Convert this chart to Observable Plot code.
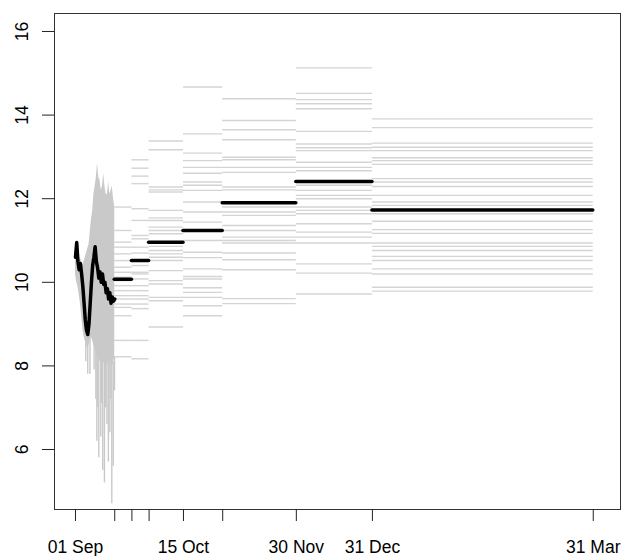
<!DOCTYPE html>
<html>
<head>
<meta charset="utf-8">
<script src="https://cdn.jsdelivr.net/npm/d3@7"></script>
<script src="https://cdn.jsdelivr.net/npm/@observablehq/plot@0.6"></script>
<style>
  html, body { margin: 0; padding: 0; background: #fff; }
  #chart svg { display: block; }
</style>
</head>
<body>
<div id="chart"></div>
<script>
// ---- Data (days since 01 Sep) ----
const tickDays = [0, 16, 23, 30, 44, 60, 90, 121, 211];
const tickLabels = ["01 Sep", "", "", "", "15 Oct", "", "30 Nov", "31 Dec", "31 Mar"];
const yTicks = [6, 8, 10, 12, 14, 16];

// half-day observed series, 01 Sep - 17 Sep
const halfDays = [0,0.5,1,1.5,2,2.5,3,3.5,4,4.5,5,5.5,6,6.5,7,7.5,8,8.5,9,9.5,10,10.5,11,11.5,12,12.5,13,13.5,14,14.5,15,15.5,16];
const observed = [10.6,10.95,10.5,10.3,10.45,10.2,9.9,9.5,9.1,8.85,8.75,9.0,9.5,10.0,10.4,10.6,10.85,10.5,10.35,10.1,10.25,10.0,10.2,9.95,10.0,9.75,9.85,9.6,9.75,9.5,9.65,9.55,9.6];
const ensUpper = [10.6,10.9,10.7,10.5,10.6,10.5,10.4,10.5,10.6,10.7,10.8,10.9,11.2,11.5,11.7,12.1,12.3,12.5,12.85,12.5,12.45,12.2,12.3,12.6,12.3,12.1,12.1,12.4,12.1,12.2,12.3,12.0,11.8];
const ensLower = [10.2,10.0,9.9,9.7,9.5,9.2,8.9,8.7,8.6,8.5,8.4,8.5,8.6,8.7,8.6,8.5,8.4,8.3,8.2,8.2,8.1,8.1,8.0,8.1,8.0,8.1,8.0,8.1,8.0,8.1,8.0,8.1,8.2];
// individual low ensemble members (streaks)
const streakDays = [4.2, 5.0, 5.9, 7.6, 8.3, 8.7, 9.1, 9.5, 10.3, 10.7, 11.1, 11.8, 12.3, 12.8, 13.4, 14.0, 14.4, 14.8, 15.4, 15.9];
const streakFrom = [8.7, 8.6, 8.7, 8.6, 8.5, 8.4, 8.3, 8.2, 8.2, 8.1, 8.1, 8.1, 8.1, 8.1, 8.1, 8.1, 8.1, 8.1, 8.1, 8.2];
const streakTo   = [8.1, 7.8, 7.8, 7.9, 7.2, 6.2, 7.0, 5.8, 6.3, 7.1, 5.5, 5.2, 7.0, 6.6, 5.7, 6.4, 7.2, 4.7, 5.6, 7.4];

// forecast periods
const periodStart = [16, 23, 30, 44, 60, 90, 121];
const periodEnd   = [23, 30, 44, 60, 90, 121, 211];
const periodMean  = [10.07, 10.52, 10.96, 11.24, 11.90, 12.41, 11.73];
const members1 = [11.80,11.24,10.96,10.84,10.68,10.52,10.36,10.24,10.12,10.04,9.92,9.80,9.68,9.60,9.48,9.40,9.20,8.61,8.22];
const members2 = [12.93,12.73,12.54,12.36,11.76,11.48,11.12,11.04,10.84,10.70,10.40,10.24,10.20,10.08,9.92,9.80,9.68,9.60,9.48,9.37,8.61,8.17];
const members3 = [13.38,13.17,12.28,12.21,12.16,11.72,11.54,11.48,11.32,11.24,11.16,10.86,10.76,10.68,10.60,10.52,10.28,10.04,9.96,9.64,9.56,8.93];
const members4 = [14.67,13.55,13.09,12.91,12.75,12.61,12.40,12.32,12.20,11.92,11.68,11.44,11.00,10.72,10.59,10.32,10.14,10.08,9.87,9.76,9.64,9.44,9.20];
const members5 = [14.39,13.87,13.65,13.41,12.99,12.93,12.75,12.63,12.28,12.21,11.80,11.68,11.60,11.36,11.24,11.08,11.00,10.94,10.70,10.54,10.30,9.61,9.49];
const members6 = [15.13,14.52,14.37,14.27,14.15,13.61,13.31,13.22,13.15,12.87,12.75,12.67,12.32,12.20,12.08,12.00,11.80,11.72,11.64,11.40,11.20,11.08,10.94,10.44,10.22,9.72];
const members7 = [13.91,13.70,13.33,13.23,13.15,12.98,12.91,12.82,12.48,12.40,12.29,12.08,11.92,11.84,11.64,11.46,11.26,11.17,10.94,10.86,10.76,10.62,10.52,10.32,10.20,9.88,9.79];
const allMembers = [members1, members2, members3, members4, members5, members6, members7];

// ---- Build tables ----
const memberRows = allMembers.flatMap((vals, i) =>
  vals.map(v => ({x1: periodStart[i], x2: periodEnd[i], y: v})));
const meanRows = periodMean.map((v, i) => ({x1: periodStart[i], x2: periodEnd[i], y: v}));
const streakRows = streakDays.map((d, i) => ({x: d, y1: streakFrom[i], y2: streakTo[i]}));
const labelMap = new Map(tickDays.map((d, i) => [d, tickLabels[i]]));

const font = "'Liberation Sans', Arial, Helvetica, sans-serif";

const chart = Plot.plot({
  width: 622,
  height: 556,
  marginLeft: 54,
  marginRight: 2,
  marginTop: 13,
  marginBottom: 47,
  style: {fontFamily: font, fontSize: "17px", background: "#fff", color: "#000"},
  x: {domain: [-8.55, 222.1], label: null},
  y: {domain: [4.565, 16.43], label: null},
  marks: [
    Plot.areaY(halfDays, {x: halfDays, y1: ensLower, y2: ensUpper, fill: "#c9c9c9", clip: true}),
    Plot.ruleX(streakRows, {x: "x", y1: "y1", y2: "y2", stroke: "#c9c9c9", strokeWidth: 1.4, clip: true}),
    Plot.ruleY(memberRows, {x1: "x1", x2: "x2", y: "y", stroke: "#b8b8b8", strokeOpacity: 0.6, strokeWidth: 1.4}),
    Plot.line(halfDays, {x: halfDays, y: observed, stroke: "#000", strokeWidth: 3.5, strokeLinejoin: "round"}),
    Plot.ruleY(meanRows, {x1: "x1", x2: "x2", y: "y", stroke: "#000", strokeWidth: 3.5, strokeLinecap: "round"}),
    Plot.frame({stroke: "#333"}),
    Plot.axisX({ticks: tickDays, tickSize: 12, tickPadding: 19, fontSize: 17.5,
      tickFormat: d => labelMap.get(d) ?? "", stroke: "#222"}),
    Plot.axisY({ticks: yTicks, tickSize: 12, tickFormat: () => "", stroke: "#222"}),
    Plot.text(yTicks, {y: d => d, text: d => String(d), frameAnchor: "left", rotate: -90,
      dx: -32, textAnchor: "middle", lineAnchor: "middle", fontSize: 17.5, fill: "#000"})
  ]
});
document.getElementById("chart").appendChild(chart);
</script>
</body>
</html>
